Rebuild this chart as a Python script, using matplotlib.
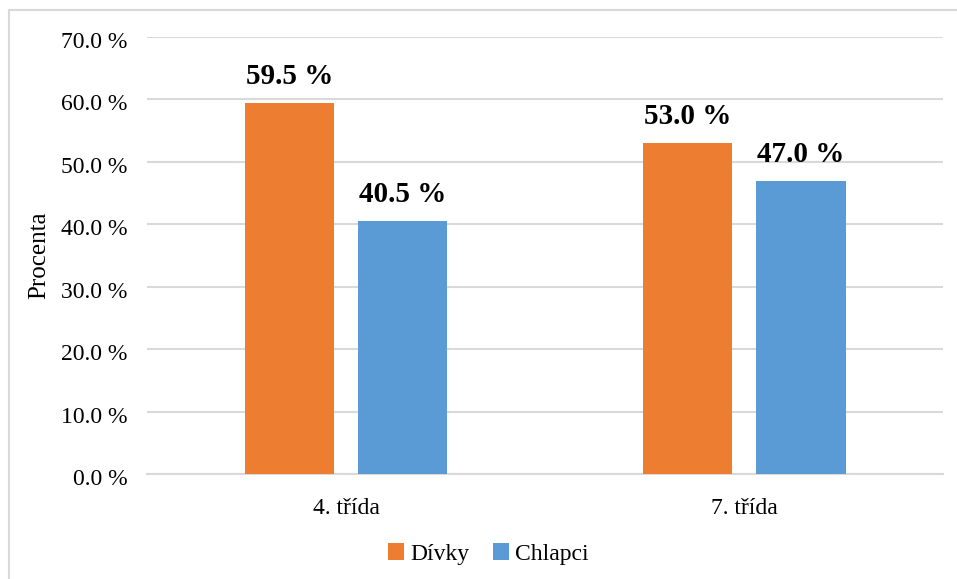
import matplotlib.pyplot as plt
import matplotlib.patches as mpatches
import matplotlib.transforms as mtransforms
import numpy as np

categories = ["4. třída", "7. třída"]
divky = [59.5, 53.0]
chlapci = [40.5, 47.0]
series_names = ["Dívky", "Chlapci"]
y_ticks = [0, 10, 20, 30, 40, 50, 60, 70]

plt.rcParams['font.family'] = ['Liberation Serif', 'DejaVu Serif']

fig = plt.figure(figsize=(9.57, 5.79), dpi=100)
ax = fig.add_axes([0.1536, 0.1813, 0.8318, 0.7548])

# light frame around the whole chart
fig.patches.append(mpatches.Rectangle((9 / 957, -0.05), 1.1, 0.05 + 1 - 10 / 579,
                                      transform=fig.transFigure, fill=False,
                                      edgecolor='#D9D9D9', linewidth=1.5))

x = np.arange(len(categories))
width = 0.226
offset = 0.142
b1 = ax.bar(x - offset, divky, width, color='#ED7D31', label=series_names[0], zorder=3)
b2 = ax.bar(x + offset, chlapci, width, color='#5B9BD5', label=series_names[1], zorder=3)

for bars, vals in ((b1, divky), (b2, chlapci)):
    for rect, v in zip(bars, vals):
        ax.text(rect.get_x() + rect.get_width() / 2, v + 3.0, f"{v:.1f} %",
                ha='center', va='baseline', fontsize=21, fontweight='bold')

ax.set_xlim(-0.5, 1.5)
ax.set_ylim(0, 70)
ax.set_yticks(y_ticks)
ax.set_yticklabels([f"{t:.1f} %" for t in y_ticks], fontsize=17)
ax.set_xticks(x)
ax.set_xticklabels(categories, fontsize=17)
ax.tick_params(axis='both', length=0)
ax.tick_params(axis='y', pad=14)
ax.tick_params(axis='x', pad=17)

# nudge the y tick labels a little below their gridlines
shift = mtransforms.ScaledTranslation(0, -3 / 100, fig.dpi_scale_trans)
for lbl in ax.get_yticklabels():
    lbl.set_transform(lbl.get_transform() + shift)

ax.grid(axis='y', color='#D9D9D9', linewidth=1.5, zorder=0)
for s in ('top', 'right', 'left'):
    ax.spines[s].set_visible(False)
ax.spines['bottom'].set_color('#D9D9D9')
ax.spines['bottom'].set_linewidth(1.5)
ax.set_ylabel("Procenta", fontsize=18, labelpad=8)

fig.legend(loc='center', bbox_to_anchor=(488.5 / 957, 1 - 554 / 579), ncol=2, frameon=False,
           fontsize=17, handlelength=0.68, handleheight=0.68, columnspacing=1.0,
           handletextpad=0.25)

fig.savefig("out.png", dpi=100)
